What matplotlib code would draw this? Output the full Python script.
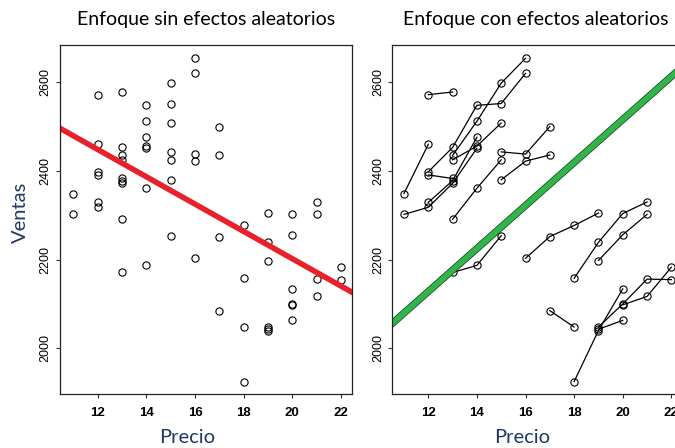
import numpy as np
import matplotlib
matplotlib.use("Agg")
import matplotlib.pyplot as plt

# precio / ventas por tienda (cada tienda = una lista)
precios = [
    [12, 13],
    [11, 12],
    [11, 12, 13, 14],
    [12, 13, 14],
    [12, 13, 14, 15, 16],
    [13, 14, 15, 16],
    [12, 13],
    [13, 14, 15],
    [13, 14, 15],
    [15, 16, 17],
    [15, 16, 17],
    [13, 14, 15],
    [16, 17, 18, 19],
    [18, 19, 20, 21],
    [19, 20, 21],
    [17, 18],
    [18, 19, 20],
    [19, 20, 21, 22],
    [19, 20],
    [20, 21, 22],
]
ventas = [
    [2572, 2578],
    [2349, 2460],
    [2302, 2318, 2372, 2451],
    [2329, 2378, 2476],
    [2398, 2453, 2548, 2552, 2620],
    [2435, 2512, 2598, 2654],
    [2391, 2383],
    [2425, 2456, 2508],
    [2291, 2361, 2425],
    [2380, 2422, 2436],
    [2443, 2438, 2500],
    [2171, 2187, 2254],
    [2203, 2252, 2277, 2305],
    [2158, 2239, 2304, 2330],
    [2198, 2256, 2302],
    [2085, 2048],
    [1925, 2040, 2134],
    [2048, 2100, 2156, 2155],
    [2043, 2063],
    [2098, 2117, 2183],
]
titulos = ["Enfoque sin efectos aleatorios", "Enfoque con efectos aleatorios"]
xticks = [12, 14, 16, 18, 20, 22]
yticks = [2000, 2200, 2400, 2600]
# rectas: intercepto, pendiente
recta_sin = (2818, -30.8)
recta_con = (1546, 48.5)

W, H = 675, 448
fig = plt.figure(figsize=(W / 100, H / 100), dpi=100)
ax1 = fig.add_axes([60 / W, 1 - 394 / H, 291.7 / W, 349 / H])
ax2 = fig.add_axes([392.3 / W, 1 - 394 / H, 290 / W, 349 / H])

xs_all = np.concatenate([np.array(p) for p in precios])
ys_all = np.concatenate([np.array(v) for v in ventas])

mk = dict(marker="o", ms=5.2, mfc="none", mec="black", mew=0.8)

ax1.plot(xs_all, ys_all, ls="none", **mk)
xr = np.array([10.0, 23.0])
ax1.plot(xr, recta_sin[0] + recta_sin[1] * xr, color="#e8212a", lw=4, solid_capstyle="butt")

for p, v in zip(precios, ventas):
    ax2.plot(p, v, color="black", lw=0.9, **mk)
xr2 = np.array([10.0, 23.5])
ax2.plot(xr2, recta_con[0] + recta_con[1] * xr2, color="#1a3a1f", lw=5.2)
ax2.plot(xr2, recta_con[0] + recta_con[1] * xr2, color="#2fb54a", lw=4.2)

for ax, t in zip([ax1, ax2], titulos):
    ax.set_xlim(10.45 if ax is ax1 else 10.52, 22.44 if ax is ax1 else 22.45)
    ax.set_ylim(1897, 2684)
    ax.set_xticks(xticks)
    ax.set_yticks(yticks)
    ax.set_xticklabels([str(x) for x in xticks], fontfamily="Liberation Sans",
                       fontweight="bold", fontsize=9.5)
    ax.set_yticklabels([str(y) for y in yticks], fontfamily="Liberation Sans",
                       fontsize=9, rotation=90, va="center")
    ax.tick_params(direction="out", length=3, width=0.8, color="#333333")
    ax.tick_params(axis="x", pad=6)
    ax.tick_params(axis="y", pad=3)
    for s in ax.spines.values():
        s.set_color("#222222")
        s.set_linewidth(0.9)
    ax.set_xlabel("Precio", fontfamily="Lato", fontsize=14.5, color="#1f3864")

ax1.xaxis.set_label_coords((187.5 - 60) / 291.7, -(437 - 394) / 349, transform=ax1.transAxes)
ax2.xaxis.set_label_coords((522.5 - 392.3) / 290, -(437 - 394) / 349, transform=ax2.transAxes)
for ax in (ax1, ax2):
    ax.xaxis.label.set_va("center")

ax1.set_ylabel("Ventas", fontfamily="Lato", fontsize=14.5, color="#1f3864", va="center")
ax1.yaxis.set_label_coords(-(60 - 20) / 291.7, (394 - 212) / 349, transform=ax1.transAxes)

fig.text(206 / W, 1 - 20 / H, titulos[0], ha="center", va="center", fontfamily="Lato", fontsize=14)
fig.text(536 / W, 1 - 20 / H, titulos[1], ha="center", va="center", fontfamily="Lato", fontsize=14)

fig.savefig("out.png", dpi=100)
